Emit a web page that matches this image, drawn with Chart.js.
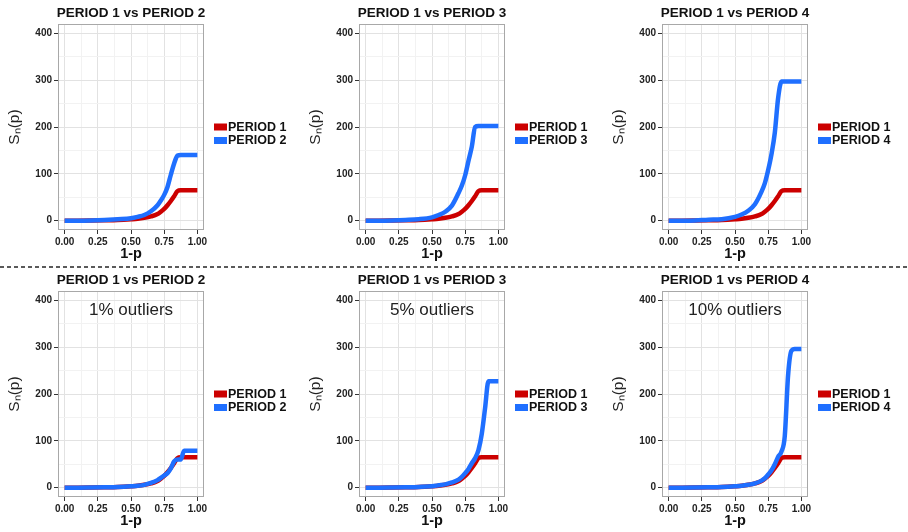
<!DOCTYPE html>
<html>
<head>
<meta charset="utf-8">
<title>S_n(p) by period</title>
<script src="https://cdn.jsdelivr.net/npm/chart.js@4.4.0/dist/chart.umd.min.js"></script>
<style>
  body { margin: 0; background: #fff; }
  #wrap { position: relative; width: 908px; height: 532px; overflow: hidden; background: #fff; }
  .panel { position: absolute; width: 300px; height: 265px; }
  #sep {
    position: absolute; left: 0; top: 266px; width: 908px; height: 2px;
    background: repeating-linear-gradient(to right, #5a5a5a 0 4px, transparent 4px 7px);
  }
</style>
</head>
<body>
<div id="wrap">
  <canvas id="c0" class="panel" width="300" height="265" style="left:0;top:0"></canvas>
  <canvas id="c1" class="panel" width="300" height="265" style="left:301px;top:0"></canvas>
  <canvas id="c2" class="panel" width="300" height="265" style="left:604px;top:0"></canvas>
  <div id="sep"></div>
  <canvas id="c3" class="panel" width="300" height="265" style="left:0;top:267px"></canvas>
  <canvas id="c4" class="panel" width="300" height="265" style="left:301px;top:267px"></canvas>
  <canvas id="c5" class="panel" width="300" height="265" style="left:604px;top:267px"></canvas>
</div>
<script>
  // ------------------------------------------
  // data
  // ------------------------------------------
  var P = [0, 0.1, 0.2, 0.3, 0.4, 0.5, 0.55, 0.6, 0.65, 0.7, 0.725, 0.75, 0.775, 0.8, 0.825, 0.85, 0.875, 0.9, 0.925, 0.95, 0.975, 1];

  var period1 = [0, 0, 0.3, 0.8, 1.5, 3, 4, 6, 9, 14, 19, 25, 33, 42, 52, 63, 65, 65, 65, 65, 65, 65];

  // clean data
  var period2 = [0, 0, 0.5, 1.5, 3, 5, 8, 12, 20, 33, 43, 55, 72, 98, 122, 139, 140, 140, 140, 140, 140, 140];
  var period3 = [0, 0, 0.5, 1.5, 3, 7, 12, 19, 32, 59, 75, 97, 128, 158, 200, 202, 202, 202, 202, 202, 202, 202];
  var period4 = [0, 0, 0.5, 2, 3, 8, 13, 21, 35, 62, 80, 108, 142, 188, 262, 297, 297, 297, 297, 297, 297, 297];

  // with outliers
  var period2Out1 = [0, 0, 0.3, 0.8, 1.5, 3, 4, 6, 10, 16, 21, 26, 31, 41, 56, 60, 60, 79, 79, 79, 79, 79];
  var period3Out5 = [0, 0, 0.3, 0.8, 1.5, 3, 5, 7, 11, 17, 23, 31, 40, 52, 63, 80, 115, 170, 227, 227, 227, 227];
  var period4Out10 = [0, 0, 0.3, 0.8, 1.5, 3, 4, 6, 9, 15, 20, 28, 37, 50, 66, 77, 110, 240, 292, 296, 296, 296];

  var titles = ["PERIOD 1 vs PERIOD 2", "PERIOD 1 vs PERIOD 3", "PERIOD 1 vs PERIOD 4",
                "PERIOD 1 vs PERIOD 2", "PERIOD 1 vs PERIOD 3", "PERIOD 1 vs PERIOD 4"];
  var notes = ["", "", "", "1% outliers", "5% outliers", "10% outliers"];
  var otherLabels = ["PERIOD 2", "PERIOD 3", "PERIOD 4", "PERIOD 2", "PERIOD 3", "PERIOD 4"];
  var otherSeries = [period2, period3, period4, period2Out1, period3Out5, period4Out10];

  var xMajor = [0, 0.25, 0.5, 0.75, 1];
  var xGrid = [0, 0.125, 0.25, 0.375, 0.5, 0.625, 0.75, 0.875, 1];
  var yMajor = [0, 100, 200, 300, 400];
  var yGrid = [0, 50, 100, 150, 200, 250, 300, 350, 400];

  var FONT = "'Liberation Sans', Arial, sans-serif";
  var RED = "#cc0000";
  var BLUE = "#1f6fff";

  function toPoints(vals) {
    return P.map(function (p, i) { return { x: p, y: vals[i] }; });
  }

  // title, note, frame and legend drawn round the plot area
  var panelDecor = {
    id: "panelDecor",
    afterDatasetsDraw: function (chart, args, opts) {
      var ctx = chart.ctx;
      var a = chart.chartArea;
      ctx.save();

      if (opts.note) {
        ctx.font = "17px " + FONT;
        ctx.fillStyle = "#222";
        ctx.textAlign = "center";
        ctx.textBaseline = "middle";
        ctx.fillText(opts.note, chart.scales.x.getPixelForValue(0.5), chart.scales.y.getPixelForValue(378));
      }

      ctx.strokeStyle = "#a8a8a8";
      ctx.lineWidth = 1;
      ctx.strokeRect(a.left + 0.5, a.top + 0.5, a.right - a.left - 1, a.bottom - a.top - 1);

      ctx.font = "bold 13.5px " + FONT;
      ctx.fillStyle = "#111";
      ctx.textAlign = "center";
      ctx.textBaseline = "middle";
      ctx.fillText(opts.title, (a.left + a.right) / 2, a.top - 10.5);

      ctx.textAlign = "left";
      ctx.font = "bold 12.5px " + FONT;
      chart.data.datasets.forEach(function (ds, i) {
        var y = (a.top + a.bottom) / 2 + i * 13.5;
        ctx.fillStyle = ds.borderColor;
        ctx.fillRect(a.right + 10, y - 3.5, 13, 7);
        ctx.fillStyle = "#111";
        ctx.fillText(ds.label, a.right + 24, y + 0.5);
      });

      ctx.restore();
    }
  };

  function gridColor(majors) {
    return function (c) {
      return majors.indexOf(c.tick.value) >= 0 ? "#e2e2e2" : "#f2f2f2";
    };
  }
  function tickColor(majors) {
    return function (c) {
      return majors.indexOf(c.tick.value) >= 0 ? "#333" : "rgba(0,0,0,0)";
    };
  }

  for (var k = 0; k < 6; k++) {
    new Chart(document.getElementById("c" + k), {
      type: "line",
      data: {
        datasets: [{
          label: "PERIOD 1",
          data: toPoints(period1),
          borderColor: RED,
          order: 1
        }, {
          label: otherLabels[k],
          data: toPoints(otherSeries[k]),
          borderColor: BLUE,
          order: 0
        }]
      },
      options: {
        responsive: false,
        animation: false,
        devicePixelRatio: 1,
        layout: { padding: { left: 0, top: 24, right: 96, bottom: 0 } },
        elements: {
          line: { borderWidth: 4.5, fill: false, cubicInterpolationMode: "monotone", borderCapStyle: "butt", borderJoinStyle: "round" },
          point: { radius: 0, hoverRadius: 0 }
        },
        scales: {
          x: {
            type: "linear",
            min: -0.05,
            max: 1.05,
            afterBuildTicks: function (axis) {
              axis.ticks = xGrid.map(function (v) { return { value: v }; });
            },
            afterFit: function (axis) { axis.height = 35; },
            border: { display: false },
            grid: { color: gridColor(xMajor), tickColor: tickColor(xMajor), tickLength: 4, lineWidth: 1 },
            ticks: {
              autoSkip: false,
              maxRotation: 0,
              padding: 2,
              color: "#222",
              font: { family: FONT, size: 10, weight: "bold" },
              callback: function (v) { return xMajor.indexOf(v) >= 0 ? v.toFixed(2) : ""; }
            },
            title: {
              display: true,
              text: "1-p",
              color: "#111",
              font: { family: FONT, size: 14.5, weight: "bold" },
              padding: { top: 0, bottom: 2 }
            }
          },
          y: {
            type: "linear",
            min: -20,
            max: 420,
            afterBuildTicks: function (axis) {
              axis.ticks = yGrid.map(function (v) { return { value: v }; });
            },
            afterFit: function (axis) { axis.width = 58; },
            border: { display: false },
            grid: { color: gridColor(yMajor), tickColor: tickColor(yMajor), tickLength: 4, lineWidth: 1 },
            ticks: {
              autoSkip: false,
              padding: 2,
              color: "#222",
              font: { family: FONT, size: 10, weight: "bold" },
              callback: function (v) { return yMajor.indexOf(v) >= 0 ? String(v) : ""; }
            },
            title: {
              display: true,
              text: "S\u2099(p)",
              color: "#222",
              font: { family: FONT, size: 15.5 },
              padding: { top: 5, bottom: 0 }
            }
          }
        },
        plugins: {
          legend: { display: false },
          tooltip: { enabled: false },
          panelDecor: { title: titles[k], note: notes[k] }
        }
      },
      plugins: [panelDecor]
    });
  }
</script>
</body>
</html>
